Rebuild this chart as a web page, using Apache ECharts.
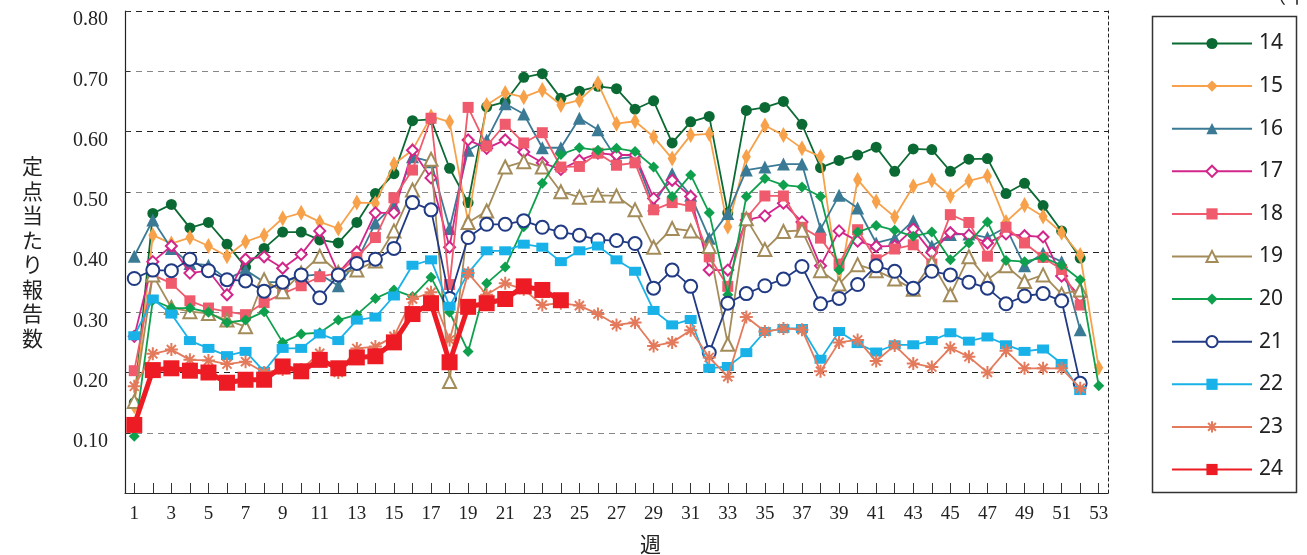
<!DOCTYPE html>
<html>
<head>
<meta charset="utf-8">
<script src="https://cdn.jsdelivr.net/npm/echarts@6/dist/echarts.min.js"></script>
<style>
html,body{margin:0;padding:0;background:#fff;}
#c{width:1307px;height:555px;}
</style>
</head>
<body>
<div id="c"></div>
<script>
var weeks = [];
for (var i = 1; i <= 53; i++) weeks.push(String(i));

var yTicks = [0, 0.1, 0.2, 0.3, 0.4, 0.5, 0.6, 0.7, 0.8];
var seriesNames = ['14','15','16','17','18','19','20','21','22','23','24'];

var s14 = [0.15,0.464,0.479,0.440,0.449,0.413,0.375,0.406,0.433,0.433,
  0.42,0.415,0.449,0.497,0.530,0.618,0.620,0.539,0.482,0.641,
  0.649,0.69,0.696,0.655,0.667,0.675,0.671,0.637,0.651,0.581,
  0.616,0.625,0.465,0.635,0.64,0.65,0.612,0.54,0.552,0.561,
  0.574,0.534,0.571,0.57,0.534,0.554,0.555,0.497,0.514,0.477,
  0.435,0.39,null];
var s15 = [0.144,0.428,0.414,0.424,0.41,0.393,0.417,0.428,0.456,0.465,
  0.45,0.439,0.482,0.481,0.546,0.569,0.625,0.616,0.45,0.644,
  0.664,0.657,0.669,0.644,0.652,0.68,0.613,0.617,0.591,0.555,
  0.594,0.596,0.442,0.558,0.61,0.594,0.572,0.558,0.345,0.52,
  0.484,0.458,0.509,0.519,0.493,0.518,0.526,0.45,0.478,0.459,
  0.432,0.395,0.208];
var s16 = [0.393,0.453,0.406,0.381,0.378,0.355,0.37,0.35,0.35,0.36,
  0.363,0.344,0.385,0.448,0.478,0.558,0.55,0.439,0.569,0.586,
  0.646,0.629,0.573,0.573,0.622,0.603,0.555,0.558,0.478,0.53,
  0.494,0.423,0.464,0.536,0.541,0.546,0.546,0.438,0.494,0.473,
  0.415,0.423,0.452,0.41,0.429,0.43,0.424,0.441,0.377,0.398,
  0.384,0.271,null];
var s17 = [0.26,0.384,0.41,0.365,0.369,0.329,0.388,0.392,0.373,0.396,
  0.435,0.365,0.40,0.465,0.465,0.569,0.523,0.408,0.586,0.572,
  0.586,0.566,0.548,0.537,0.552,0.564,0.561,0.561,0.489,0.519,
  0.492,0.37,0.37,0.453,0.46,0.481,0.45,0.377,0.435,0.418,
  0.409,0.41,0.438,0.399,0.432,0.428,0.415,0.43,0.427,0.425,
  0.36,0.326,null];
var s18 = [0.203,0.362,0.348,0.319,0.307,0.301,0.296,0.316,0.331,0.344,
  0.359,0.365,0.391,0.424,0.49,0.536,0.622,0.346,0.64,0.576,
  0.612,0.581,0.598,0.541,0.542,0.564,0.544,0.548,0.47,0.482,
  0.476,0.392,0.343,0.456,0.493,0.493,0.441,0.423,0.38,0.437,
  0.387,0.405,0.412,0.38,0.462,0.449,0.393,0.441,0.415,0.391,
  0.371,0.312,null];
var s19 = [0.152,0.362,0.308,0.301,0.298,0.287,0.276,0.354,0.334,0.365,
  0.393,0.366,0.37,0.385,0.435,0.503,0.554,0.185,0.449,0.468,
  0.541,0.55,0.541,0.50,0.491,0.494,0.493,0.47,0.408,0.439,
  0.435,0.409,0.247,0.455,0.404,0.434,0.436,0.369,0.347,0.379,
  0.369,0.355,0.338,0.382,0.329,0.392,0.354,0.377,0.351,0.362,
  0.33,0.337,null];
var s20 = [0.094,0.32,0.307,0.307,0.30,0.283,0.287,0.301,0.25,0.264,
  0.266,0.287,0.296,0.323,0.337,0.326,0.358,0.30,0.235,0.348,
  0.375,0.442,0.514,0.562,0.573,0.569,0.572,0.567,0.541,0.492,
  0.528,0.465,0.329,0.492,0.522,0.511,0.508,0.492,0.37,0.433,
  0.444,0.436,0.426,0.433,0.387,0.415,0.45,0.386,0.384,0.391,
  0.378,0.354,0.178];
var s21 = [0.356,0.37,0.369,0.388,0.369,0.354,0.352,0.335,0.35,0.362,
  0.324,0.362,0.381,0.388,0.406,0.482,0.47,0.323,0.424,0.446,
  0.446,0.452,0.441,0.433,0.428,0.42,0.419,0.414,0.34,0.37,
  0.343,0.233,0.315,0.331,0.344,0.355,0.376,0.314,0.323,0.346,
  0.377,0.368,0.34,0.368,0.362,0.35,0.34,0.314,0.327,0.331,
  0.319,0.182,null];
var s22 = [0.261,0.322,0.297,0.253,0.24,0.228,0.235,0.202,0.24,0.24,
  0.264,0.253,0.287,0.292,0.327,0.378,0.387,0.31,0.365,0.402,
  0.402,0.413,0.408,0.384,0.402,0.41,0.387,0.368,0.303,0.279,
  0.288,0.207,0.21,0.233,0.268,0.273,0.273,0.222,0.268,0.248,
  0.234,0.246,0.246,0.253,0.266,0.252,0.259,0.246,0.235,0.239,
  0.215,0.17,null];
var s23 = [0.177,0.231,0.238,0.221,0.22,0.214,0.218,0.20,0.205,0.205,
  0.232,0.20,0.24,0.243,0.26,0.322,0.333,0.254,0.365,0.329,
  0.348,0.338,0.312,0.315,0.311,0.297,0.279,0.283,0.244,0.25,
  0.27,0.225,0.193,0.292,0.268,0.273,0.271,0.202,0.25,0.254,
  0.219,0.245,0.215,0.209,0.241,0.226,0.2,0.236,0.207,0.207,
  0.207,0.174,null];
var s24 = [0.113,0.204,0.207,0.203,0.2,0.183,0.188,0.188,0.21,0.202,
  0.221,0.207,0.225,0.227,0.25,0.297,0.315,0.217,0.309,0.315,
  0.322,0.343,0.337,0.32];

var seriesData = [s14,s15,s16,s17,s18,s19,s20,s21,s22,s23,s24];
var colors = ['#0b6a33','#f7a24a','#3b7a95','#d2268a','#ef5b6c','#a48c5a','#0fa04e','#213a84','#19b2e8','#e47a5c','#ed1c24'];
var asterisk = 'path://M5,0L5,10M0,5L10,5M1.5,1.5L8.5,8.5M1.5,8.5L8.5,1.5';
var symbols = ['circle','diamond','triangle','diamond','rect','triangle','diamond','circle','rect',asterisk,'rect'];
var sizes = [11,[9,16],13,11,11,13,11,13,[12,9],13,16];
var hollow = [false,false,false,true,false,true,false,true,false,false,false];

var series = seriesNames.map(function(n, k){
  var c = colors[k];
  var isAst = k === 9;
  return {
    name: n,
    type: 'line',
    data: seriesData[k],
    symbol: symbols[k],
    symbolSize: sizes[k],
    showAllSymbol: true,
    connectNulls: false,
    z: 2 + k,
    lineStyle: {color: c, width: k === 10 ? 5 : 1.8},
    itemStyle: {
      color: hollow[k] ? '#ffffff' : c,
      borderColor: c,
      borderWidth: hollow[k] ? 2 : (isAst ? 2 : 0)
    },
    emphasis: {disabled: true}
  };
});

var chart = echarts.init(document.getElementById('c'), null, {renderer: 'canvas'});
chart.setOption({
  animation: false,
  backgroundColor: '#ffffff',
  grid: {left: 125, right: 199, top: 11, bottom: 62, containLabel: false, outerBoundsMode: 'none'},
  xAxis: {
    type: 'category',
    data: weeks,
    boundaryGap: true,
    name: '週',
    nameLocation: 'middle',
    nameGap: 41,
    nameTextStyle: {fontFamily: 'Noto Sans CJK JP', fontSize: 21, color: '#222', padding: [0,0,0,68]},
    axisLine: {show: true, lineStyle: {color: '#222', width: 1.2}},
    axisTick: {show: true, inside: true, length: 10, alignWithLabel: true, interval: 0, lineStyle: {color: '#333', width: 1}},
    axisLabel: {interval: 1, margin: 12, fontFamily: 'Liberation Serif', fontSize: 19, color: '#222'},
    splitLine: {show: false}
  },
  yAxis: [{
    type: 'value',
    min: 0, max: 0.8, interval: 0.1,
    name: '定\n点\n当\nた\nり\n報\n告\n数',
    nameLocation: 'middle',
    nameRotate: 0,
    nameGap: 82,
    nameTextStyle: {fontFamily: 'Noto Sans CJK JP', fontSize: 21, lineHeight: 24.5, color: '#222'},
    axisLine: {show: true, lineStyle: {color: '#222', width: 1.2}},
    axisTick: {show: true, inside: true, length: 5, lineStyle: {color: '#333'}},
    axisLabel: {
      margin: 17, fontFamily: 'Liberation Serif', fontSize: 20, color: '#222',
      verticalAlign: 'top', lineHeight: 20, padding: [-1,0,0,0],
      formatter: function(v){ return v === 0 ? '' : v.toFixed(2); }
    },
    splitLine: {show: true, lineStyle: {color: ['#222','#888'], type: [6,5], width: 1.2}}
  }, {
    type: 'value',
    position: 'right',
    min: 0, max: 0.8, interval: 0.1,
    axisLine: {show: true, lineStyle: {color: '#222', type: [3,3], width: 1}},
    axisTick: {show: false},
    axisLabel: {show: false},
    splitLine: {show: false}
  }],
  legend: {
    orient: 'vertical',
    left: 1166,
    top: 28,
    itemWidth: 80,
    itemHeight: 14,
    itemGap: 21.6,
    textStyle: {fontFamily: 'Noto Sans', fontSize: 21, color: '#222', padding: [0,0,0,2]},
    data: seriesNames,
    selectedMode: false
  },
  graphic: [
    {type: 'rect', left: 1150, top: 14, shape: {width: 144, height: 476}, style: {fill: 'none', stroke: '#333', lineWidth: 1.5}, silent: true},
    {type: 'text', left: 1266, top: -15, style: {text: '（年）', fontFamily: 'Noto Sans CJK JP', fontSize: 20, fill: '#222'}, silent: true}
  ],
  series: series
});
</script>
</body>
</html>
